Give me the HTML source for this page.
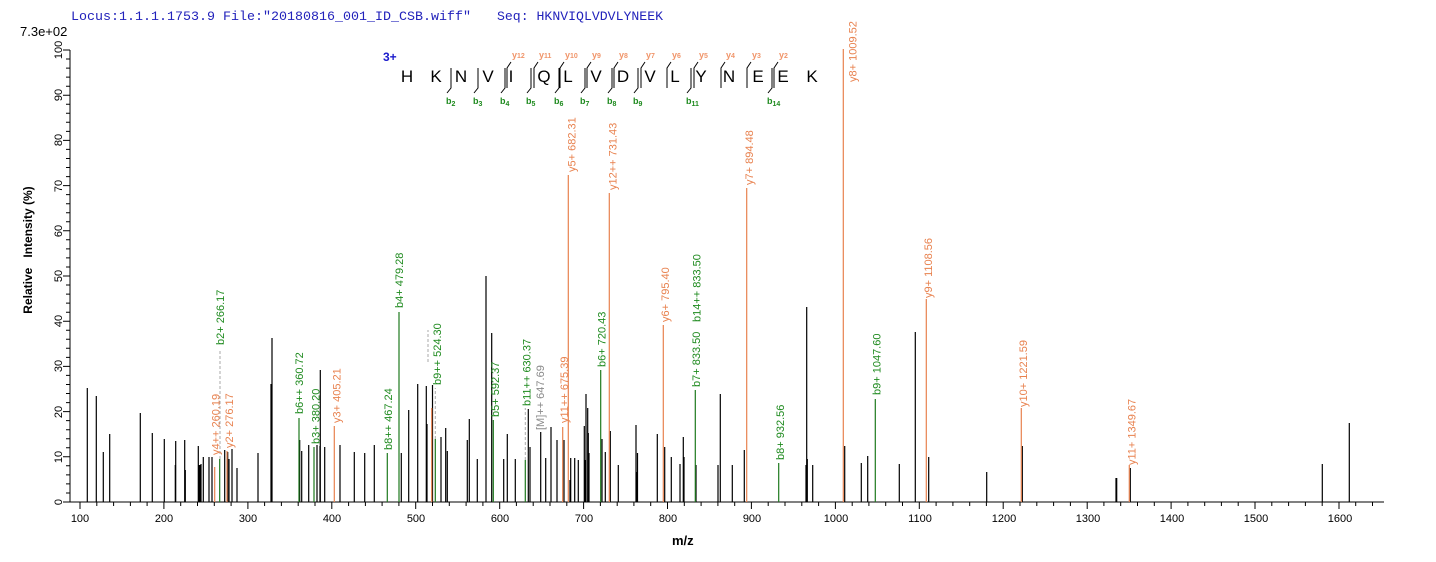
<!DOCTYPE html>
<html><head><meta charset="utf-8"><style>
html,body{margin:0;padding:0;background:#fff;}
svg{display:block;font-family:"Liberation Sans",Arial,sans-serif;}
.o{fill:#e8824f}.g{fill:#1e8a1e}.gr{fill:#8a8a8a}
</style></head><body>
<svg id="s" width="1436" height="562" viewBox="0 0 1436 562" xmlns="http://www.w3.org/2000/svg">
<text x="71" y="20" font-family="Liberation Mono,monospace" font-size="13" fill="#2222bb" textLength="400" lengthAdjust="spacingAndGlyphs">Locus:1.1.1.1753.9 File:"20180816_001_ID_CSB.wiff"</text>
<text x="497" y="20" font-family="Liberation Mono,monospace" font-size="13" fill="#2222bb" textLength="166" lengthAdjust="spacingAndGlyphs">Seq: HKNVIQLVDVLYNEEK</text>
<text x="20" y="36" font-size="13" fill="#000">7.3e+02</text>
<text transform="translate(32,250) rotate(-90)" font-size="12" font-weight="bold" text-anchor="middle" xml:space="preserve">Relative   Intensity (%)</text>
<text x="672" y="545" font-size="13" font-weight="bold">m/z</text>

<g id="axes" stroke="#000" stroke-width="1" fill="none"></g>
<g font-size="11" text-anchor="middle">
<text x="80" y="522">100</text><text x="164" y="522">200</text><text x="248" y="522">300</text><text x="332" y="522">400</text><text x="416" y="522">500</text><text x="500" y="522">600</text><text x="584" y="522">700</text><text x="668" y="522">800</text><text x="752" y="522">900</text><text x="836" y="522">1000</text><text x="920" y="522">1100</text><text x="1004" y="522">1200</text><text x="1088" y="522">1300</text><text x="1172" y="522">1400</text><text x="1256" y="522">1500</text><text x="1340" y="522">1600</text>
</g>
<g font-size="11" text-anchor="middle">
<text transform="translate(62,502) rotate(-90)">0</text>
<text transform="translate(62,457) rotate(-90)">10</text>
<text transform="translate(62,412) rotate(-90)">20</text>
<text transform="translate(62,366) rotate(-90)">30</text>
<text transform="translate(62,321) rotate(-90)">40</text>
<text transform="translate(62,276) rotate(-90)">50</text>
<text transform="translate(62,231) rotate(-90)">60</text>
<text transform="translate(62,186) rotate(-90)">70</text>
<text transform="translate(62,140) rotate(-90)">80</text>
<text transform="translate(62,95) rotate(-90)">90</text>
<text transform="translate(62,50) rotate(-90)">100</text>
</g>

<path id="pk" stroke="#000" stroke-width="1.2" fill="none"></path>
<path id="pg" stroke="#1e7a1e" stroke-width="1.2" fill="none"></path>
<path id="po" stroke="#e8824f" stroke-width="1.2" fill="none"></path>
<path d="M220,459V349 M435.3,439V388 M525.3,460V408 M428,362V330" stroke="#aaa" stroke-width="1" stroke-dasharray="3,2" fill="none"></path>

<g font-size="11">
<text class="o" transform="translate(219.5,455) rotate(-90)">y4++ 260.19</text>
<text class="g" transform="translate(224,345) rotate(-90)">b2+ 266.17</text>
<text class="o" transform="translate(233,448) rotate(-90)">y2+ 276.17</text>
<text class="g" transform="translate(303,414) rotate(-90)">b6++ 360.72</text>
<text class="g" transform="translate(319.5,444) rotate(-90)">b3+ 380.20</text>
<text class="o" transform="translate(340.5,423) rotate(-90)">y3+ 405.21</text>
<text class="g" transform="translate(392,450) rotate(-90)">b8++ 467.24</text>
<text class="g" transform="translate(403,308) rotate(-90)">b4+ 479.28</text>
<text class="g" transform="translate(441,385) rotate(-90)">b9++ 524.30</text>
<text class="g" transform="translate(499,417) rotate(-90)">b5+ 592.37</text>
<text class="g" transform="translate(530.5,406) rotate(-90)">b11++ 630.37</text>
<text class="gr" transform="translate(544,430) rotate(-90)">[M]++ 647.69</text>
<text class="o" transform="translate(568,423) rotate(-90)">y11++ 675.39</text>
<text class="o" transform="translate(575.5,172) rotate(-90)">y5+ 682.31</text>
<text class="g" transform="translate(605.5,367) rotate(-90)">b6+ 720.43</text>
<text class="o" transform="translate(616.5,190) rotate(-90)">y12++ 731.43</text>
<text class="o" transform="translate(669,322) rotate(-90)">y6+ 795.40</text>
<text class="g" transform="translate(700,387) rotate(-90)">b7+ 833.50</text>
<text class="g" transform="translate(700.5,322) rotate(-90)">b14++ 833.50</text>
<text class="o" transform="translate(753,185) rotate(-90)">y7+ 894.48</text>
<text class="g" transform="translate(784,460) rotate(-90)">b8+ 932.56</text>
<text class="o" transform="translate(856.5,82) rotate(-90)">y8+ 1009.52</text>
<text class="g" transform="translate(880.5,395) rotate(-90)">b9+ 1047.60</text>
<text class="o" transform="translate(932,298) rotate(-90)">y9+ 1108.56</text>
<text class="o" transform="translate(1027,407) rotate(-90)">y10+ 1221.59</text>
<text class="o" transform="translate(1135.5,465) rotate(-90)">y11+ 1349.67</text>
</g>

<!-- sequence -->
<text x="383" y="61" font-size="12" font-weight="bold" fill="#1a1acc">3+</text>
<g font-size="17" text-anchor="middle" fill="#000">
<text x="407" y="82">H</text><text x="436" y="82">K</text><text x="461" y="82">N</text><text x="488" y="82">V</text><text x="511" y="82">I</text><text x="544" y="82">Q</text><text x="568" y="82">L</text><text x="596" y="82">V</text><text x="623" y="82">D</text><text x="650" y="82">V</text><text x="675" y="82">L</text><text x="701" y="82">Y</text><text x="729" y="82">N</text><text x="758" y="82">E</text><text x="783" y="82">E</text><text x="812" y="82">K</text>
</g>
<path id="br" stroke="#000" stroke-width="1" fill="none"></path>
<g font-size="9" font-weight="bold" fill="#1e8a1e">
<text x="446" y="104">b<tspan font-size="7" dy="2">2</tspan></text>
<text x="473" y="104">b<tspan font-size="7" dy="2">3</tspan></text>
<text x="500" y="104">b<tspan font-size="7" dy="2">4</tspan></text>
<text x="526" y="104">b<tspan font-size="7" dy="2">5</tspan></text>
<text x="554" y="104">b<tspan font-size="7" dy="2">6</tspan></text>
<text x="580" y="104">b<tspan font-size="7" dy="2">7</tspan></text>
<text x="607" y="104">b<tspan font-size="7" dy="2">8</tspan></text>
<text x="633" y="104">b<tspan font-size="7" dy="2">9</tspan></text>
<text x="686" y="104">b<tspan font-size="7" dy="2">11</tspan></text>
<text x="767" y="104">b<tspan font-size="7" dy="2">14</tspan></text>
</g>
<g font-size="9" font-weight="bold" fill="#f0956a">
<text x="512" y="58">y<tspan font-size="7">12</tspan></text>
<text x="539" y="58">y<tspan font-size="7">11</tspan></text>
<text x="565" y="58">y<tspan font-size="7">10</tspan></text>
<text x="592" y="58">y<tspan font-size="7">9</tspan></text>
<text x="619" y="58">y<tspan font-size="7">8</tspan></text>
<text x="646" y="58">y<tspan font-size="7">7</tspan></text>
<text x="672" y="58">y<tspan font-size="7">6</tspan></text>
<text x="699" y="58">y<tspan font-size="7">5</tspan></text>
<text x="726" y="58">y<tspan font-size="7">4</tspan></text>
<text x="752" y="58">y<tspan font-size="7">3</tspan></text>
<text x="779" y="58">y<tspan font-size="7">2</tspan></text>
</g>
</svg>
<script>
(function(){
var d="M70,50V502H1384";
for(var v=0;v<=100;v+=2){var y=502-v*4.52;d+="M"+(v%10==0?63:66)+","+y.toFixed(1)+"H70";}
for(var i=0;;i++){var x=80+i*16.786;if(x>1384)break;d+="M"+x.toFixed(1)+",502V"+(i%5==0?509:506);}
document.getElementById("axes").innerHTML='<path d="'+d+'"/>';
function P(id,a){var s="";for(var i=0;i<a.length;i+=2)s+="M"+a[i]+",502V"+a[i+1];document.getElementById(id).setAttribute("d",s);}
P("pk",[87.3,388,96.3,396,103.3,452,109.7,434,140.3,413,152.3,433,164.3,439,175.7,441,175.3,465,184.7,440,185.3,470,198.3,446,199,465,200,465,201,464,203.3,457,209,457,212,457,224.7,450,227.7,452,229,459,232,449,237,468,258,453,271,384,272,338,299.7,440,301.7,451,308.7,445,317,445,320.3,370,320,446,324.7,447,340,445,354.3,452,364.7,453,374.3,445,401.3,453,408.7,410,417.7,384,426.3,386,427,424,432.5,385,441,437,445.7,428,447.3,451,467.3,440,469.3,419,477.3,459,486,276,491.7,333,503.7,459,507.3,434,515.3,459,528.3,409,530,447,540.7,432,545.7,458,551,427,557,440,564,440,570,480,570.7,458,574.7,458,578.3,460,584.3,426,585,460,586,394,587.7,408,588.3,433,589,453,602,439,605.3,452,610.3,431,618.3,465,636,425,637,472,637.5,453,657.3,434,664.7,447,671.3,457,680,464,683.3,437,684,457,696,465,718,465,720.3,394,732.3,465,744.3,450,806,465,806.7,307,807.3,459,812.7,465,844.7,446,861.3,463,867.7,456,899.3,464,915.3,332,928.7,457,986.7,472,1022.3,446,1116,478,1116.7,478,1130.3,468,1322.3,464,1349.3,423]);
P("pg",[219.7,459,299,418,314,447,387.3,453,399,312,435.3,439,493.3,420,525.3,460,600.7,370,695.3,390,778.7,463,875.3,399]);
P("po",[214.7,467,227,451,334.3,426,431.7,408,562.7,427,568.3,175,609.3,193,663.3,325,746.7,188,843.3,49,926.3,299,1021.3,408,1129.3,465]);
var b=[451,478,505,531,559,585,612,638,691,772],yb=[507,534,560,587,614,641,667,694,721,747,774],s="";
b.forEach(function(x){s+="M"+x+",68V88L"+(x-4)+",93";});
yb.forEach(function(x){s+="M"+x+",88V68L"+(x+4)+",62";});
document.getElementById("br").setAttribute("d",s);
})();
</script>
</body></html>
